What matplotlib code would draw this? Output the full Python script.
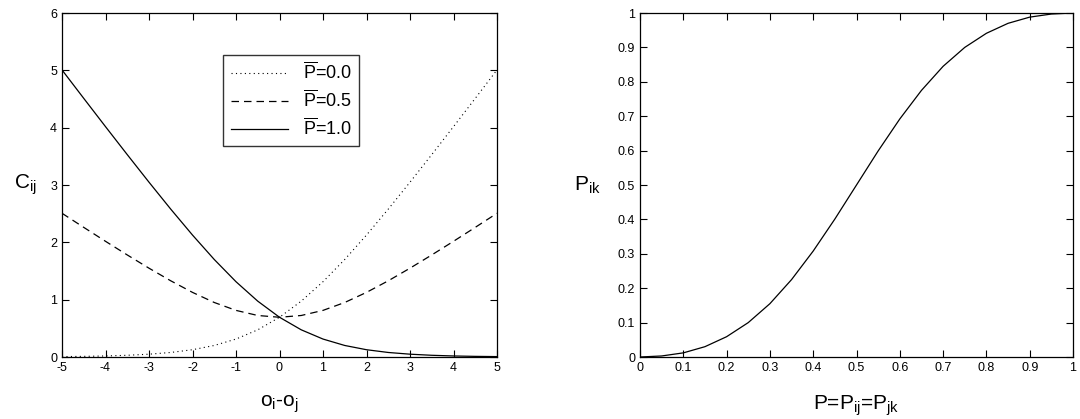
import numpy as np
import matplotlib.pyplot as plt

plt.rcParams['font.family'] = ['Liberation Sans', 'DejaVu Sans']
plt.rcParams['mathtext.fontset'] = 'custom'
plt.rcParams['mathtext.rm'] = 'Liberation Sans'
plt.rcParams['mathtext.it'] = 'Liberation Sans'
plt.rcParams['axes.unicode_minus'] = False

# left panel: cost vs o_i - o_j
o_diff = [-5, -4.5, -4, -3.5, -3, -2.5, -2, -1.5, -1, -0.5, 0,
          0.5, 1, 1.5, 2, 2.5, 3, 3.5, 4, 4.5, 5]
cost_p10 = [5.007, 4.511, 4.018, 3.530, 3.049, 2.579, 2.127, 1.701, 1.313, 0.974, 0.693,
            0.474, 0.313, 0.201, 0.127, 0.079, 0.049, 0.030, 0.018, 0.011, 0.007]
cost_p00 = cost_p10[::-1]
cost_p05 = [2.507, 2.261, 2.018, 1.780, 1.549, 1.329, 1.127, 0.951, 0.813, 0.724, 0.693,
            0.724, 0.813, 0.951, 1.127, 1.329, 1.549, 1.780, 2.018, 2.261, 2.507]

# right panel: combined probability
p_in = [0, 0.05, 0.1, 0.15, 0.2, 0.25, 0.3, 0.35, 0.4, 0.45, 0.5,
        0.55, 0.6, 0.65, 0.7, 0.75, 0.8, 0.85, 0.9, 0.95, 1.0]
p_ik = [0, 0.003, 0.012, 0.030, 0.059, 0.100, 0.155, 0.225, 0.308, 0.401, 0.5,
        0.599, 0.692, 0.775, 0.845, 0.900, 0.941, 0.970, 0.988, 0.997, 1.0]

fig = plt.figure(figsize=(10.8, 4.19), dpi=100)
ax1 = fig.add_axes([62/1080, 1-357/419, 435/1080, 344/419])
ax2 = fig.add_axes([640/1080, 1-357/419, 433/1080, 344/419])

ax1.plot(o_diff, cost_p00, color='black', lw=0.8, ls=(0, (1, 3)), label=r'$\overline{P}$=0.0')
ax1.plot(o_diff, cost_p05, color='black', lw=0.9, ls=(0, (6, 4)), label=r'$\overline{P}$=0.5')
ax1.plot(o_diff, cost_p10, color='black', lw=0.9, label=r'$\overline{P}$=1.0')
ax1.set_xlim(-5, 5)
ax1.set_ylim(0, 6)
ax1.set_xticks(range(-5, 6))
ax1.set_yticks(range(0, 7))
ax1.set_xlabel(r'o$_\mathregular{i}$-o$_\mathregular{j}$', fontsize=15, labelpad=14)
ax1.set_ylabel(r'C$_\mathregular{ij}$', fontsize=15, rotation=0, labelpad=18, va='center')
leg = ax1.legend(loc='upper left', bbox_to_anchor=(0.35, 0.905), fontsize=13,
                 fancybox=False, edgecolor='black', handlelength=3.2, borderpad=0.4,
                 labelspacing=0.35)
leg.get_frame().set_linewidth(1.0)

ax2.plot(p_in, p_ik, color='black', lw=0.9)
ax2.set_xlim(0, 1)
ax2.set_ylim(0, 1)
ax2.set_xticks(np.round(np.arange(0, 1.01, 0.1), 1))
ax2.set_yticks(np.round(np.arange(0, 1.01, 0.1), 1))
ax2.set_xticklabels(['0', '0.1', '0.2', '0.3', '0.4', '0.5', '0.6', '0.7', '0.8', '0.9', '1'])
ax2.set_yticklabels(['0', '0.1', '0.2', '0.3', '0.4', '0.5', '0.6', '0.7', '0.8', '0.9', '1'])
ax2.set_xlabel(r'P=P$_\mathregular{ij}$=P$_\mathregular{jk}$', fontsize=15, labelpad=14)
ax2.set_ylabel(r'P$_\mathregular{ik}$', fontsize=15, rotation=0, labelpad=22, va='center')

for ax in (ax1, ax2):
    ax.tick_params(direction='in', top=True, right=True, labelsize=9, length=5, width=0.8)
    for s in ax.spines.values():
        s.set_linewidth(0.9)

plt.savefig('out.png', dpi=100)
